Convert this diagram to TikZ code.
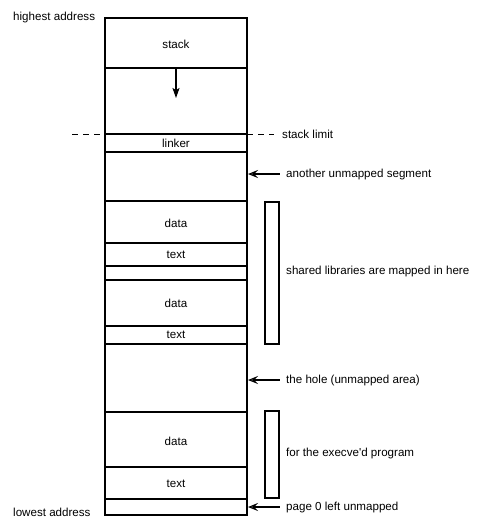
\documentclass[tikz,border=0pt]{standalone}
\usepackage{fontspec}
\setmainfont{Liberation Sans}
\usetikzlibrary{arrows.meta}
\begin{document}
\begin{tikzpicture}[x=1pt,y=-1pt,
  seg/.style={draw=black,line width=1.1pt},
  lbl/.style={font=\fontsize{11.6}{13}\selectfont,inner sep=0pt},
  side/.style={font=\fontsize{11.6}{13}\selectfont,inner sep=0pt,anchor=west},
  bar/.style={draw=black,line width=1.4pt},
  ptr/.style={line width=1.2pt,{Stealth[open,length=10pt,width=8pt,inset=4pt,line width=1.1pt]}-},
  growarrow/.style={line width=1.3pt,-{Stealth[length=10pt,width=7pt,inset=2pt]}}]
\useasboundingbox (0,0) rectangle (485,523);
% main column
\draw[seg] (105,18) rectangle (247,515);
\foreach \yy in {68,134,152,201,243,266,280,326,344,412,467,499}
  \draw[seg] (105,\yy) -- (247,\yy);
% segment labels
\node[lbl] (stack) at (176,44) {stack};
\node[lbl] (linker) at (176,143) {linker};
\node[lbl] (d1) at (176,223) {data};
\node[lbl] (t1) at (176,255) {text};
\node[lbl] (d2) at (176,303) {data};
\node[lbl] (t2) at (176,335) {text};
\node[lbl] (d3) at (176,441) {data};
\node[lbl] (t3) at (176,484) {text};
% stack growth arrow
\coordinate (sa) at (176,68);
\coordinate (sb) at (176,98);
\draw[growarrow] (sa) -- (sb);
% stack limit dashed line
\coordinate (dl1) at (72,134);
\coordinate (dl2) at (105,134);
\coordinate (dr1) at (247,134);
\coordinate (dr2) at (274,134);
\draw[line width=1pt,dash pattern=on 6pt off 5pt] (dl1) -- (dl2);
\draw[line width=1pt,dash pattern=on 6pt off 5pt] (dr1) -- (dr2);
\node[side] (limit) at (282,134) {stack limit};
% address labels
\node[side] (high) at (13,17) {highest address};
\node[side] (low) at (13,512) {lowest address};
% pointer arrows
\node[side] (another) at (286,174) {another unmapped segment};
\node[side] (hole) at (286,380) {the hole (unmapped area)};
\node[side] (page0) at (286,507) {page 0 left unmapped};
\coordinate (a1) at (248,174);
\coordinate (a2) at (280,174);
\coordinate (h1) at (248,380);
\coordinate (h2) at (280,380);
\coordinate (p1) at (248,507);
\coordinate (p2) at (280,507);
\draw[ptr] (a1) -- (a2);
\draw[ptr] (h1) -- (h2);
\draw[ptr] (p1) -- (p2);
% brackets
\draw[bar] (265,202) rectangle (279,344);
\draw[bar] (265,411) rectangle (279,498);
\node[side] (shared) at (286,271) {shared libraries are mapped in here};
\node[side] (exec) at (286,453) {for the execve\textquotesingle d program};
\end{tikzpicture}
\end{document}
